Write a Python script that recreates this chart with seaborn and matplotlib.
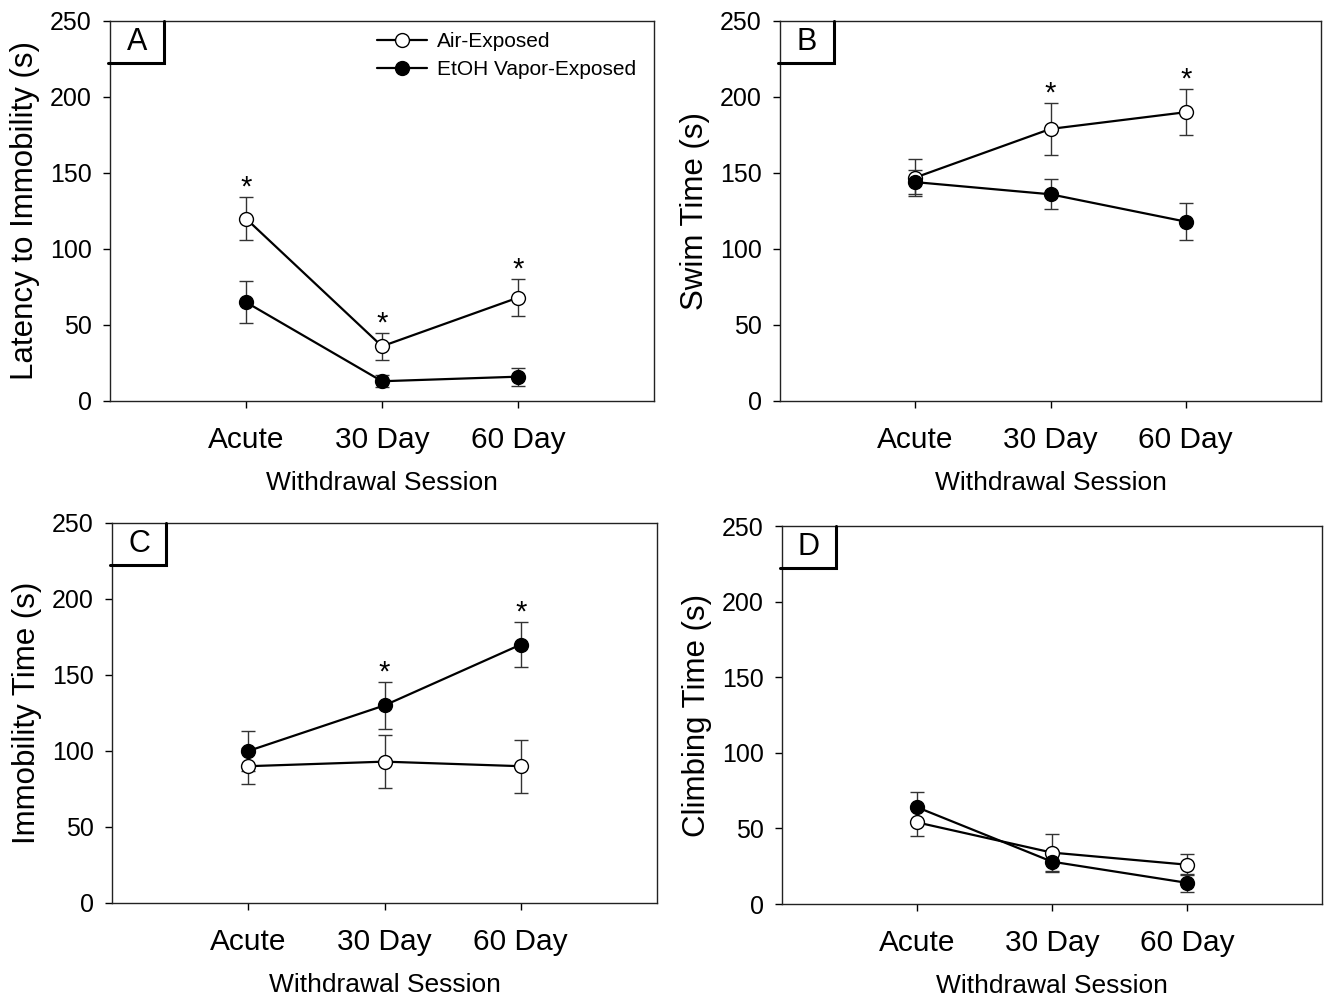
import numpy as np
import pandas as pd
import matplotlib
matplotlib.use("Agg")
import matplotlib.pyplot as plt
import seaborn as sns

# data (mean and SEM in seconds)
sessions = ["Acute", "30 Day", "60 Day"]
groups = ["Air-Exposed", "EtOH Vapor-Exposed"]

a_air = [120, 36, 68]
a_air_sem = [14, 9, 12]
a_etoh = [65, 13, 16]
a_etoh_sem = [14, 4, 6]

b_air = [147, 179, 190]
b_air_sem = [12, 17, 15]
b_etoh = [144, 136, 118]
b_etoh_sem = [8, 10, 12]

c_air = [90, 93, 90]
c_air_sem = [12, 17.5, 17.5]
c_etoh = [100, 130, 170]
c_etoh_sem = [13, 15.5, 15]

d_air = [54, 34, 26]
d_air_sem = [9, 12, 7]
d_etoh = [64, 28, 14]
d_etoh_sem = [10, 7, 6]

# significance stars: (group that carries the star, session indices)
a_stars = ("Air-Exposed", [0, 1, 2])
b_stars = ("Air-Exposed", [1, 2])
c_stars = ("EtOH Vapor-Exposed", [1, 2])
d_stars = ("Air-Exposed", [])

ylabels = ["Latency to Immobility (s)", "Swim Time (s)",
           "Immobility Time (s)", "Climbing Time (s)"]
letters = ["A", "B", "C", "D"]

sns.set_style("ticks")
plt.rcParams['font.family'] = ['Liberation Sans', 'DejaVu Sans']
plt.rcParams['axes.linewidth'] = 1.0
for key in ["text.color", "axes.labelcolor", "xtick.color", "ytick.color"]:
    plt.rcParams[key] = "black"


def make_df(air, air_sem, etoh, etoh_sem):
    rows = []
    for i, s in enumerate(sessions):
        rows.append({"x": i + 1, "session": s, "group": groups[0],
                     "mean": air[i], "sem": air_sem[i]})
    for i, s in enumerate(sessions):
        rows.append({"x": i + 1, "session": s, "group": groups[1],
                     "mean": etoh[i], "sem": etoh_sem[i]})
    return pd.DataFrame(rows)


panels = [
    (make_df(a_air, a_air_sem, a_etoh, a_etoh_sem), a_stars),
    (make_df(b_air, b_air_sem, b_etoh, b_etoh_sem), b_stars),
    (make_df(c_air, c_air_sem, c_etoh, c_etoh_sem), c_stars),
    (make_df(d_air, d_air_sem, d_etoh, d_etoh_sem), d_stars),
]

fig = plt.figure(figsize=(13.29, 9.99), dpi=100)
W, H = 1329, 999
# axes boxes in pixels: left, top, right, bottom
boxes = [(110, 21, 654, 401), (780, 21, 1321, 401),
         (112, 523, 657, 903), (782, 526, 1322, 904)]

face = {"Air-Exposed": "white", "EtOH Vapor-Exposed": "black"}

for k, ((df, stars), (l, t, r, b)) in enumerate(zip(panels, boxes)):
    ax = fig.add_axes([l / W, 1 - b / H, (r - l) / W, (b - t) / H])
    for g in groups:
        sub = df[df["group"] == g]
        ax.errorbar(sub["x"], sub["mean"], yerr=sub["sem"], fmt="none",
                    ecolor="#333333", elinewidth=1.0, capsize=5, capthick=1.0,
                    zorder=2)
        sns.lineplot(data=sub, x="x", y="mean", ax=ax, color="black",
                     linewidth=1.6, marker="o", markersize=10,
                     markerfacecolor=face[g], markeredgecolor="black",
                     markeredgewidth=1.0, label=g if k == 0 else None,
                     zorder=3, errorbar=None)
    g_star, idx = stars
    sub = df[df["group"] == g_star].reset_index(drop=True)
    for i in idx:
        top = sub.loc[i, "mean"] + sub.loc[i, "sem"]
        ax.text(sub.loc[i, "x"], top + 1, "*", ha="center", va="baseline",
                fontsize=21)

    ax.set_xlim(0, 4)
    ax.set_ylim(0, 250)
    ax.set_xticks([1, 2, 3])
    ax.set_xticklabels(sessions)
    ax.set_yticks(np.arange(0, 251, 50))
    ax.tick_params(axis="x", labelsize=21.5, length=5, width=1, pad=13)
    ax.tick_params(axis="y", labelsize=18, length=5, width=1, pad=8)
    ax.set_xlabel("Withdrawal Session", fontsize=19, labelpad=12)
    ax.set_ylabel(ylabels[k], fontsize=22.5, labelpad=7)
    for sp in ax.spines.values():
        sp.set_visible(True)
        sp.set_color("#222222")

    # letter box in the upper-left corner
    bw, bh = 54 / (r - l), 42 / (b - t)
    ax.plot([-2 / (r - l), bw, bw], [1 - bh, 1 - bh, 1],
            transform=ax.transAxes, color="black", linewidth=2.2,
            clip_on=False, zorder=5, solid_joinstyle="miter")
    ax.text(bw / 2, 1 - bh / 2, letters[k], transform=ax.transAxes,
            ha="center", va="center", fontsize=22)

    if k == 0:
        ax.legend(loc="upper left", bbox_to_anchor=(0.47, 1.0), frameon=False,
                  fontsize=15, handlelength=2.4, handletextpad=0.45,
                  labelspacing=0.4, borderaxespad=0.15)
    elif ax.get_legend() is not None:
        ax.get_legend().remove()

fig.savefig("out.png", dpi=100)
